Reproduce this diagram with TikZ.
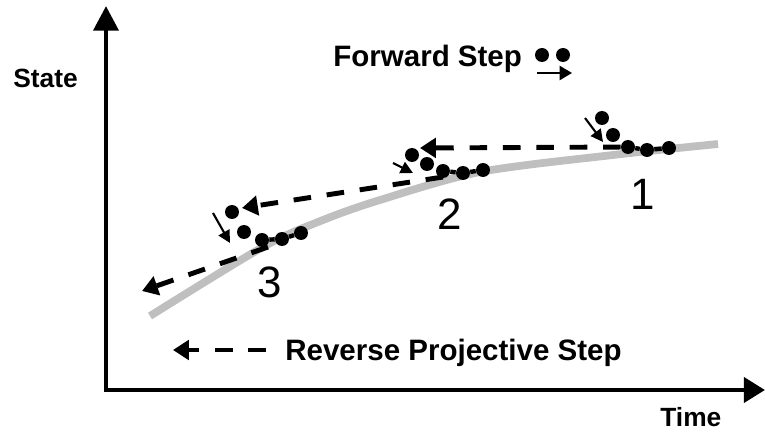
\documentclass[tikz,border=0pt]{standalone}
\usepackage{fontspec}
\setmainfont{Liberation Sans}
\usetikzlibrary{arrows.meta, positioning}

\begin{document}
\begin{tikzpicture}[x=0.02cm, y=-0.02cm,
  axis/.style={line width=2.8pt, line join=miter},
  trend/.style={gray!50, line width=4.4pt},
  dot/.style={circle, fill=black, inner sep=0pt, minimum size=0.28cm},
  fwd/.style={line width=2.5pt},
  proj/.style={line width=2.8pt, dash pattern=on 10pt off 9pt, -{Triangle[length=9pt,width=11pt]}},
  nudge/.style={line width=1.2pt, -{Triangle[length=7pt,width=7pt]}},
  big/.style={font=\fontsize{16.8}{20}\selectfont\bfseries, inner sep=0pt},
  lab/.style={font=\fontsize{15}{18}\selectfont\bfseries, inner sep=0pt},
  num/.style={font=\fontsize{25}{30}\selectfont, anchor=base, inner sep=0pt}]
\useasboundingbox (0,0) rectangle (765,442);

\coordinate (O) at (106,390);
\coordinate (ytip) at (106,6);
\coordinate (xtip) at (765,390);
\draw[axis, {Triangle[length=14pt,width=14pt]}-{Triangle[length=12pt,width=14pt]}] (ytip) -- (O) -- (xtip);
\node[lab, anchor=base west] (state) at (13,88) {State};
\node[lab, anchor=base west] (time) at (660,427) {Time};

\draw[trend] plot[smooth] coordinates {(150,316) (263,247) (323,220) (380,200) (480,172) (613,155) (718,144)};

\node[dot] (c1a) at (602,118) {};
\node[dot] (c1b) at (613,135) {};
\node[dot] (c1c) at (628,147) {};
\node[dot] (c1d) at (647,150) {};
\node[dot] (c1e) at (669,148) {};
\node[dot] (c2a) at (412,155) {};
\node[dot] (c2b) at (427,164) {};
\node[dot] (c2c) at (443,171) {};
\node[dot] (c2d) at (463,173) {};
\node[dot] (c2e) at (483,170) {};
\node[dot] (c3a) at (232,212) {};
\node[dot] (c3b) at (244,232) {};
\node[dot] (c3c) at (262,240) {};
\node[dot] (c3d) at (282,239) {};
\node[dot] (c3e) at (301,233) {};

\draw[fwd] (c1c) -- (c1d) -- (c1e);
\draw[fwd] (c2c) -- (c2d) -- (c2e);
\draw[fwd] (c3c) -- (c3d) -- (c3e);

\coordinate (n1) at (585,118);
\coordinate (m1) at (603,142);
\coordinate (n2) at (393,163);
\coordinate (m2) at (413,173);
\coordinate (n3) at (213,213);
\coordinate (m3) at (230,243);
\draw[nudge] (n1) -- (m1);
\draw[nudge] (n2) -- (m2);
\draw[nudge] (n3) -- (m3);

\coordinate (p2) at (420,148);
\coordinate (q2) at (443,177);
\coordinate (p3) at (242,208);
\coordinate (q3) at (268,247);
\coordinate (p4) at (142,291);
\draw[proj] (c1c) -- (p2);
\draw[proj] (q2) -- (p3);
\draw[proj] (q3) -- (p4);

\node[num] (one) at (643,210) {1};
\node[num] (two) at (450,230) {2};
\node[num] (three) at (270,298) {3};

\node[big, anchor=base west] (fwdlab) at (333,67) {Forward Step};
\node[dot] (fa) at (542,55) {};
\node[dot] (fb) at (563,55) {};
\coordinate (fs) at (537,73);
\coordinate (ft) at (572,73);
\draw[line width=1.1pt, -{Triangle[length=7pt,width=8pt]}] (fs) -- (ft);

\node[big, anchor=base west] (revlab) at (285,361) {Reverse Projective Step};
\coordinate (revtail) at (266,350);
\coordinate (revhead) at (173,350);
\draw[proj] (revtail) -- (revhead);
\end{tikzpicture}
\end{document}
